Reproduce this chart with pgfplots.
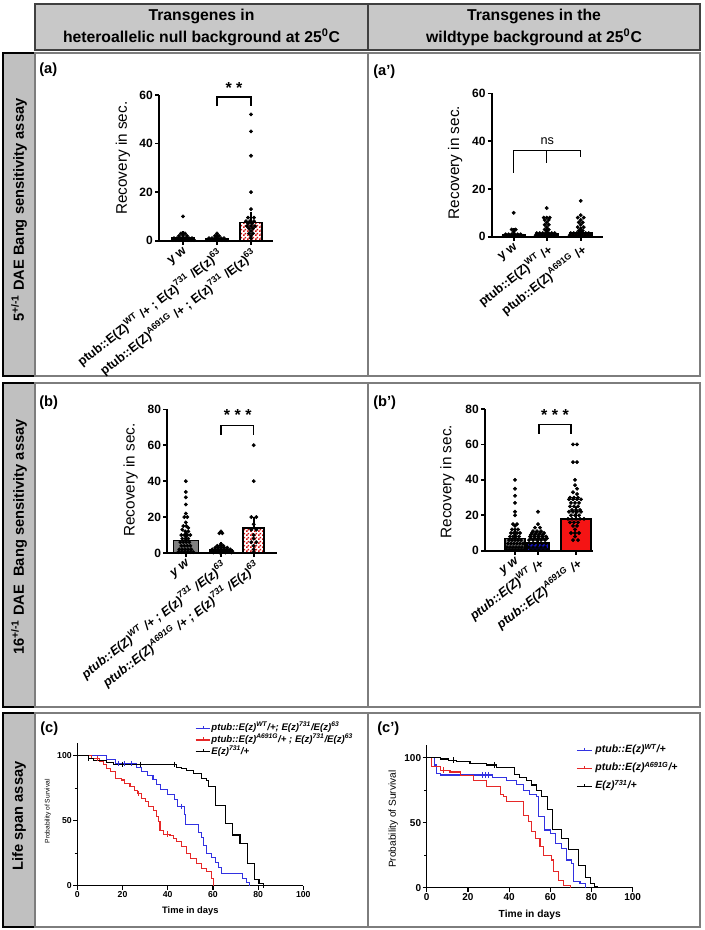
\documentclass[border=0pt]{standalone}
\usepackage{fontspec}
\setmainfont{Liberation Sans}
\usepackage{pgfplots}
\pgfplotsset{compat=1.18}
\usetikzlibrary{patterns}

\definecolor{hdrgray}{RGB}{200,200,200}
\definecolor{sidegray}{RGB}{192,192,192}
\definecolor{framegray}{RGB}{125,125,125}
\definecolor{bargray}{RGB}{128,128,128}
\definecolor{barblue}{RGB}{20,20,205}
\definecolor{barred}{RGB}{245,20,20}
\definecolor{kmblue}{RGB}{50,50,225}
\definecolor{kmred}{RGB}{230,40,40}

% fine checkerboard for the hatched bars
\pgfdeclarepatternformonly{finecheck}{\pgfpointorigin}{\pgfqpoint{2.6pt}{2.6pt}}{\pgfqpoint{2.6pt}{2.6pt}}{%
  \pgfpathrectangle{\pgfpointorigin}{\pgfqpoint{1.3pt}{1.3pt}}%
  \pgfpathrectangle{\pgfqpoint{1.3pt}{1.3pt}}{\pgfqpoint{1.3pt}{1.3pt}}%
  \pgfusepath{fill}}

\newcommand{\fsz}[2]{\fontsize{#1}{#2}\selectfont}

\pgfplotsset{
  barax/.style={
    scale only axis, anchor=south west, clip=false,
    axis x line=bottom, axis y line=left,
    axis line style={-, line width=1.4pt},
    x axis line style={-}, y axis line style={-},
    enlargelimits=false, xmin=0, ymin=0,
    tick align=outside, major tick length=3pt,
    tick style={black, line width=1.2pt},
    /pgf/number format/assume math mode=true,
    yticklabel style={font=\fsz{9}{10}\bfseries, inner sep=1.5pt},
    xticklabel style={rotate=38, anchor=north east, inner sep=1pt},
    ylabel={Recovery in sec.},
    ylabel style={font=\fsz{11.5}{12}, anchor=center},
  },
  dots/.style={only marks, mark=*, mark size=1.25pt, black},
  bar/.style={ybar, bar shift=0pt, draw=black, line width=1.2pt,
    error bars/y dir=plus, error bars/y explicit,
    error bars/error bar style={line width=1.2pt, black},
    error bars/error mark options={line width=1.2pt, black, mark size=4pt}},
  kmax/.style={
    scale only axis, anchor=south west, clip=false,
    axis x line=bottom, axis y line=left,
    axis line style={-, line width=1.1pt},
    x axis line style={-}, y axis line style={-},
    xmin=0, xmax=100, ymin=0, ymax=110,
    xtick={0,20,...,100}, ytick={0,50,100}, minor ytick={25,75},
    tick align=outside, major tick length=3pt, minor tick length=2pt,
    tick style={black, line width=0.9pt},
    /pgf/number format/assume math mode=true,
    xlabel={Time in days},
    ylabel={Probability of Survival},
    legend cell align=left,
  },
  km/.style={const plot, line width=0.8pt},
  cens/.style={forget plot, only marks, mark=|, mark size=2pt, line width=0.6pt},
}

\begin{document}
\begin{tikzpicture}
\begin{scope}[x=0.75pt, y=-0.75pt]
\path[use as bounding box] (0,0) rectangle (704,930);
% header
\draw[fill=hdrgray, draw=black!75, line width=0.9pt] (35,4) rectangle (700,50);
\draw[draw=black!75, line width=0.9pt] (368,4) -- (368,50);
\node[align=center, font=\fsz{11.8}{16.5}\bfseries] at (201.5,27) {Transgenes in\\heteroallelic null background at 25\textsuperscript{0}C};
\node[align=center, font=\fsz{11.8}{16.5}\bfseries] at (534,27) {Transgenes in the\\wildtype background at 25\textsuperscript{0}C};
% rows
\foreach \t/\b in {53/376, 383/707, 713/927} {
  \draw[fill=sidegray, draw=black, line width=0.9pt] (3,\t) rectangle (35,\b);
  \draw[draw=framegray, line width=1pt] (35,\t) rectangle (700,\b);
  \draw[draw=framegray, line width=1pt] (368,\t) -- (368,\b);
}
\node[rotate=90, font=\fsz{11}{12}\bfseries] at (19,210) {5\textsuperscript{+/-1} DAE Bang sensitivity assay};
\node[rotate=90, font=\fsz{11}{12}\bfseries] at (19,537) {16\textsuperscript{+/-1} DAE\ \ Bang sensitivity assay};
\node[rotate=90, font=\fsz{11}{12}\bfseries] at (19,816) {Life span assay};
% panel letters
\node[anchor=west, font=\fsz{11}{12}\bfseries, inner sep=0pt] at (39,70) {(a)};
\node[anchor=west, font=\fsz{11}{12}\bfseries, inner sep=0pt] at (373,72) {(a')};
\node[anchor=west, font=\fsz{11}{12}\bfseries, inner sep=0pt] at (39,403) {(b)};
\node[anchor=west, font=\fsz{11}{12}\bfseries, inner sep=0pt] at (373,403) {(b')};
\node[anchor=west, font=\fsz{11}{12}\bfseries, inner sep=0pt] at (40,729) {(c)};
\node[anchor=west, font=\fsz{11}{12}\bfseries, inner sep=0pt] at (377,729) {(c')};
\end{scope}

% ---------- (a)
\begin{axis}[barax, at={(119.25pt,-180.53pt)}, width=85.5pt, height=109.28pt,
  xmax=114, ymax=60, ytick={0,20,40,60},
  xtick={24,58,92},
  xticklabels={{y w},{ptub::E(Z)\textsuperscript{WT} /+ ; E(z)\textsuperscript{731} /E(z)\textsuperscript{63}},{ptub::E(Z)\textsuperscript{A691G} /+ ; E(z)\textsuperscript{731} /E(z)\textsuperscript{63}}},
  xticklabel style={font=\fsz{9.5}{10}\bfseries},
  ylabel style={at={(axis description cs:-0.316,0.566)}}]
\addplot[bar, bar width=22, fill=bargray] coordinates {(24,1) +- (0,0.6)};
\addplot[bar, bar width=22, fill=black!70] coordinates {(58,0.6) +- (0,0.3)};
\addplot[bar, bar width=22, pattern=finecheck, pattern color=barred!85!black] coordinates {(92,7.5) +- (0,2)};
\addplot[dots] coordinates {(24,10) (22,3) (26,3) (20,2) (24,2) (28,2) (15,1) (18,1) (21,1) (24,1) (27,1) (30,1) (33,1) (14,0.3) (17,0.3) (20,0.3) (23,0.3) (26,0.3) (29,0.3) (32,0.3) (35,0.3)};
\addplot[dots] coordinates {(58,3) (56,2) (60,2) (50,1) (53,1) (56,1) (59,1) (62,1) (65,1) (48,0.3) (51,0.3) (54,0.3) (57,0.3) (60,0.3) (63,0.3) (66,0.3) (68,0.3)};
\addplot[dots] coordinates {(92,52) (92,45) (92,35) (92,20) (92,13) (89,9.5) (95,9.5) (87,8) (91,8) (95,8) (89,7) (93,7) (88,6) (92,6) (96,6) (90,5) (94,5) (92,4) (90,3) (94,3) (92,2) (92,1)};
\draw[line width=1.1pt] (axis cs:58,55.4) -- (axis cs:58,59.2) -- (axis cs:92,59.2) -- (axis cs:92,55.4);
\node[font=\fsz{12}{12}\bfseries] at (axis cs:75,62.8) {* *};
\end{axis}

% ---------- (a')
\begin{axis}[barax, at={(368.78pt,-177.53pt)}, width=83.25pt, height=107.55pt,
  xmax=111, ymax=60, ytick={0,20,40,60},
  xtick={22,55,89},
  xticklabels={{y w},{ptub::E(Z)\textsuperscript{WT} /+},{ptub::E(Z)\textsuperscript{A691G} /+}},
  xticklabel style={font=\fsz{9.5}{10}\bfseries},
  ylabel style={at={(axis description cs:-0.33,0.517)}}]
\addplot[bar, bar width=22, fill=bargray] coordinates {(22,1) +- (0,0.5)};
\addplot[bar, bar width=22, fill=barblue] coordinates {(55,1.3) +- (0,0.4)};
\addplot[bar, bar width=22, fill=barred] coordinates {(89,1.5) +- (0,0.5)};
\addplot[dots] coordinates {(22,10) (20,3) (24,3) (22,2) (14,1) (17,1) (20,1) (23,1) (26,1) (29,1) (12,0.3) (15,0.3) (18,0.3) (21,0.3) (24,0.3) (27,0.3) (30,0.3) (32,0.3)};
\addplot[dots] coordinates {(55,12) (52,8) (55,8) (58,8) (53,7) (57,7) (55,6) (53,5) (57,5) (55,4) (53,3) (57,3) (55,2.5) (45,1.5) (48,1.5) (51,1.5) (54,1.5) (57,1.5) (60,1.5) (63,1.5) (44,0.6) (47,0.6) (50,0.6) (53,0.6) (56,0.6) (59,0.6) (62,0.6) (65,0.6)};
\addplot[dots] coordinates {(89,15) (89,9) (86,8) (92,8) (89,7) (87,6) (91,6) (89,5) (86,4) (92,4) (89,3.3) (87,2.5) (91,2.5) (79,1.5) (82,1.5) (85,1.5) (88,1.5) (91,1.5) (94,1.5) (97,1.5) (78,0.6) (81,0.6) (84,0.6) (87,0.6) (90,0.6) (93,0.6) (96,0.6) (99,0.6)};
\draw[line width=1.1pt] (axis cs:22,26.7) -- (axis cs:22,36) -- (axis cs:89,36) -- (axis cs:89,33.5);
\draw[line width=1.1pt] (axis cs:55,36) -- (axis cs:55,31);
\node[font=\fsz{9.5}{10}] at (axis cs:55.5,40) {ns};
\end{axis}

% ---------- (b)
\begin{axis}[barax, at={(125.48pt,-414.75pt)}, width=82.05pt, height=107.78pt,
  xmax=109.4, ymax=80, ytick={0,20,40,60,80},
  xtick={18.5,53.7,86.4},
  xticklabels={{y w},{ptub::E(Z)\textsuperscript{WT} /+ ; E(z)\textsuperscript{731} /E(z)\textsuperscript{63}},{ptub::E(Z)\textsuperscript{A691G} /+ ; E(z)\textsuperscript{731} /E(z)\textsuperscript{63}}},
  xticklabel style={font=\fsz{9.5}{10}\bfseries\itshape},
  ylabel style={at={(axis description cs:-0.335,0.508)}}]
\addplot[bar, bar width=25, fill=bargray] coordinates {(18.5,7) +- (0,2.1)};
\addplot[bar, bar width=22, fill=black!70] coordinates {(53.7,2) +- (0,1)};
\addplot[bar, bar width=21, pattern=finecheck, pattern color=barred!85!black] coordinates {(86.4,14) +- (0,3)};
\addplot[dots] coordinates {(18.5,40) (18.5,34) (18.5,31) (18.5,27) (18.5,22) (17,20) (20,20) (18.5,17) (16,15) (19,15) (21,14) (15,13) (18,12) (21,12) (14,10) (17,10) (20,10) (23,10) (15,8) (18,8) (21,8) (13,6) (16,6) (19,6) (22,6) (14,4) (17,4) (20,4) (23,4) (12,2) (15,2) (18,2) (21,2) (24,2) (11,0.5) (14,0.5) (17,0.5) (20,0.5) (23,0.5) (26,0.5)};
\addplot[dots] coordinates {(53.7,12) (52,11) (55,11) (53.7,5) (50,4) (53,4) (56,4) (48,3) (51,3) (54,3) (57,3) (60,3) (45,2) (48,2) (51,2) (54,2) (57,2) (60,2) (63,2) (44,1) (47,1) (50,1) (53,1) (56,1) (59,1) (62,1) (65,1) (46,0.3) (52,0.3) (58,0.3) (64,0.3)};
\addplot[dots] coordinates {(86.4,60) (86.4,40) (84,20) (89,20) (86.4,16) (84,13) (89,13) (86.4,10) (86.4,8) (84,6) (89,6) (86.4,4) (86.4,2) (86.4,0.5)};
\draw[line width=1.1pt] (axis cs:53.7,65.7) -- (axis cs:53.7,70.9) -- (axis cs:86.4,70.9) -- (axis cs:86.4,65.7);
\node[font=\fsz{12}{12}\bfseries] at (axis cs:70.4,76.6) {* * *};
\end{axis}

% ---------- (b')
\begin{axis}[barax, at={(363.75pt,-413.03pt)}, width=81.23pt, height=106.28pt,
  xmax=108.3, ymax=80, ytick={0,20,40,60,80},
  xtick={30,53,91},
  xticklabels={{y w},{ptub::E(Z)\textsuperscript{WT} /+},{ptub::E(Z)\textsuperscript{A691G} /+}},
  xticklabel style={font=\fsz{9.5}{10}\bfseries\itshape},
  ylabel style={at={(axis description cs:-0.348,0.487)}}]
\addplot[bar, bar width=20, fill=bargray] coordinates {(30,7) +- (0,2)};
\addplot[bar, bar width=22, fill=barblue] coordinates {(53,4.5) +- (0,1)};
\addplot[bar, bar width=30, fill=barred] coordinates {(91,18) +- (0,3.5)};
\addplot[dots] coordinates {(30,40) (30,35) (30,31) (30,27) (30,22) (30,20) (28,15) (32,15) (30,14) (27,12) (30,12) (33,12) (26,10) (29,10) (32,10) (35,10) (25,8) (28,8) (31,8) (34,8) (24,6) (27,6) (30,6) (33,6) (36,6) (23,4) (26,4) (29,4) (32,4) (35,4) (38,4) (22,2) (25,2) (28,2) (31,2) (34,2) (37,2) (21,0.5) (24,0.5) (27,0.5) (30,0.5) (33,0.5) (36,0.5) (39,0.5)};
\addplot[dots] coordinates {(53,22) (53,15) (50,13) (55,13) (48,11) (52,11) (56,11) (47,10) (51,10) (55,10) (59,10) (46,9) (50,9) (54,9) (58,9) (45,8) (49,8) (53,8) (57,8) (61,8) (46,7) (50,7) (54,7) (58,7) (62,7) (44,6) (48,6) (52,6) (56,6) (60,6) (45,4) (49,4) (53,4) (57,4) (61,4) (44,2) (48,2) (52,2) (56,2) (60,2) (46,0.5) (50,0.5) (54,0.5) (58,0.5) (62,0.5)};
\addplot[dots] coordinates {(88,60) (92,60) (88,50) (92,50) (90,40) (90,37) (92,35) (88,33) (92,32) (85,30) (89,30) (93,30) (84,29) (88,29) (92,29) (96,29) (86,27) (90,27) (94,27) (85,25) (89,25) (93,25) (87,23) (91,23) (95,23) (84,22) (88,22) (92,22) (96,22) (86,20) (90,20) (94,20) (83,18) (87,18) (91,18) (95,18) (99,18) (85,16) (89,16) (93,16) (88,14) (92,14) (90,12) (86,10) (90,10) (94,10) (90,8) (88,6) (93,6)};
\draw[line width=1.1pt] (axis cs:54,65.9) -- (axis cs:54,71.4) -- (axis cs:86,71.4) -- (axis cs:86,65.9);
\node[font=\fsz{12}{12}\bfseries] at (axis cs:70,76.8) {* * *};
\end{axis}

% ---------- (c)
\begin{axis}[kmax, at={(57.98pt,-664.28pt)}, width=169.5pt, height=107.25pt,
  ticklabel style={font=\fsz{6.5}{7}\bfseries, inner sep=1pt},
  xlabel style={font=\fsz{7}{8}\bfseries, at={(axis description cs:0.5,-0.177)}, anchor=center},
  ylabel style={font=\fsz{5}{6}, at={(axis description cs:-0.13,0.52)}, anchor=center},
  legend image code/.code={\draw[#1] (0pt,0pt) -- (11pt,0pt); \draw[#1, line width=0.6pt] (5.5pt,0pt) -- (5.5pt,2pt);},
  legend style={at={(0.52,1.14)}, anchor=north west, draw=none, fill=none,
    font=\fsz{7.2}{8}\bfseries\itshape, row sep=0.8pt, inner sep=0pt,
    nodes={inner sep=0.5pt, text height=5.5pt, text depth=1.5pt}}]
\addplot[km, kmblue] coordinates {(0,100) (13,97) (17,94) (26,91) (28.5,88) (31,85) (33.5,82) (35,78) (37,74) (40,70) (43,66) (44.5,61) (47.5,55) (48,47) (53.5,41) (55,37) (56,31) (57,25) (59.5,22) (61,18) (62.5,14) (64,9.5) (73,5.5) (75,2.5) (76,0)};
\addlegendentry{ptub::E(z)\textsuperscript{WT}/+; E(z)\textsuperscript{731}/E(z)\textsuperscript{63}}
\addplot[km, kmred] coordinates {(0,100) (6.3,98) (10,95.4) (11.5,93.6) (13,90.3) (14.5,87.7) (16.7,82.6) (19.6,81.3) (21,78.7) (23.3,76.2) (25.5,73.6) (26.5,71) (28.5,67.2) (30,64.6) (31.4,60.8) (33.6,57.7) (35.1,53.6) (35.8,49.2) (36.6,42.8) (38,39.7) (41,38.5) (42.5,36.4) (44,33.8) (46.2,30) (48.4,24.9) (49.9,21) (52.8,17.2) (55,13.3) (57.2,10.8) (59.4,5.6) (60.2,0)};
\addlegendentry{ptub::E(z)\textsuperscript{A691G}/+ ; E(z)\textsuperscript{731}/E(z)\textsuperscript{63}}
\addplot[km, black] coordinates {(0,100) (5,98) (7,96.5) (13,95) (16,93.5) (44,91) (46,90) (48.4,88.5) (51.3,86.4) (55,82.6) (57.2,80.8) (58,76) (61,62) (65.6,48) (68.7,39) (72,32.6) (75.2,17.2) (78.6,4.9) (80.4,1.8) (82.3,0)};
\addlegendentry{E(z)\textsuperscript{731}/+}
\addplot[cens, kmblue] coordinates {(18,94) (21,94) (24,94) (46,61)};
\addplot[cens, black] coordinates {(5,98) (20,93.5) (28,93.5) (43,93.5) (82.5,0)};
\addplot[cens, kmred] coordinates {(9,98) (27,71) (40,39.7)};
\end{axis}

% ---------- (c')
\begin{axis}[kmax, at={(320.03pt,-665.78pt)}, width=154.5pt, height=107.25pt,
  ticklabel style={font=\fsz{7.5}{8}\bfseries, inner sep=1pt},
  xlabel style={font=\fsz{7.7}{8}\bfseries, at={(axis description cs:0.5,-0.19)}, anchor=center},
  ylabel style={font=\fsz{7.6}{8}, at={(axis description cs:-0.162,0.48)}, anchor=center},
  legend image code/.code={\draw[#1] (0pt,0pt) -- (11pt,0pt); \draw[#1, line width=0.6pt] (5.5pt,0pt) -- (5.5pt,2pt);},
  legend style={at={(0.725,1.005)}, anchor=north west, draw=none, fill=none,
    font=\fsz{7.9}{9}\bfseries\itshape, row sep=4.5pt, inner sep=0pt,
    /tikz/column sep=2pt,
    nodes={inner sep=0.5pt, text height=6pt, text depth=2pt}}]
\addplot[km, kmblue] coordinates {(0,100) (4,94.4) (4.9,88) (6.5,86.7) (32,84.9) (38.8,82.8) (43.7,79.7) (47,75) (50,72) (53.4,70) (54.2,54.6) (57.4,44.4) (59.9,41.8) (62.3,34) (65.5,30.3) (68,21.3) (70.4,18.7) (71.2,4.6) (74.4,3.3) (76.9,0)};
\addlegendentry{ptub::E(z)\textsuperscript{WT}/+}
\addplot[km, kmred] coordinates {(0,100) (2.4,93.6) (6.5,90.5) (11.3,89) (16.2,86) (22.7,82.8) (29,77.7) (35.6,72) (37.2,70) (38.8,66) (47,55.9) (49.4,50.8) (51,43) (52.6,38) (55,31.5) (56.6,25) (60.7,21.3) (61.5,12.3) (63.9,5.9) (66.3,2) (69.6,0)};
\addlegendentry{ptub::E(z)\textsuperscript{A691G}/+}
\addplot[km, black] coordinates {(0,100) (6.5,99) (10.5,98.2) (14.6,97) (21,95.6) (29,94.4) (34,92.6) (42.4,87) (45,85) (48.5,82.8) (51,79) (53.4,75) (55.8,70) (58.6,60) (61.2,45) (65.5,38) (68.8,29.5) (73.6,17.4) (76.9,7.7) (79.3,3.3) (81.5,1) (82.8,0)};
\addlegendentry{E(z)\textsuperscript{731}/+}
\addplot[cens, kmblue] coordinates {(27,86.7) (28.5,86.7) (30,86.7)};
\addplot[cens, black] coordinates {(13,98.2) (33,94.4)};
\addplot[cens, kmred] coordinates {(8,90.5)};
\end{axis}
\end{tikzpicture}
\end{document}
